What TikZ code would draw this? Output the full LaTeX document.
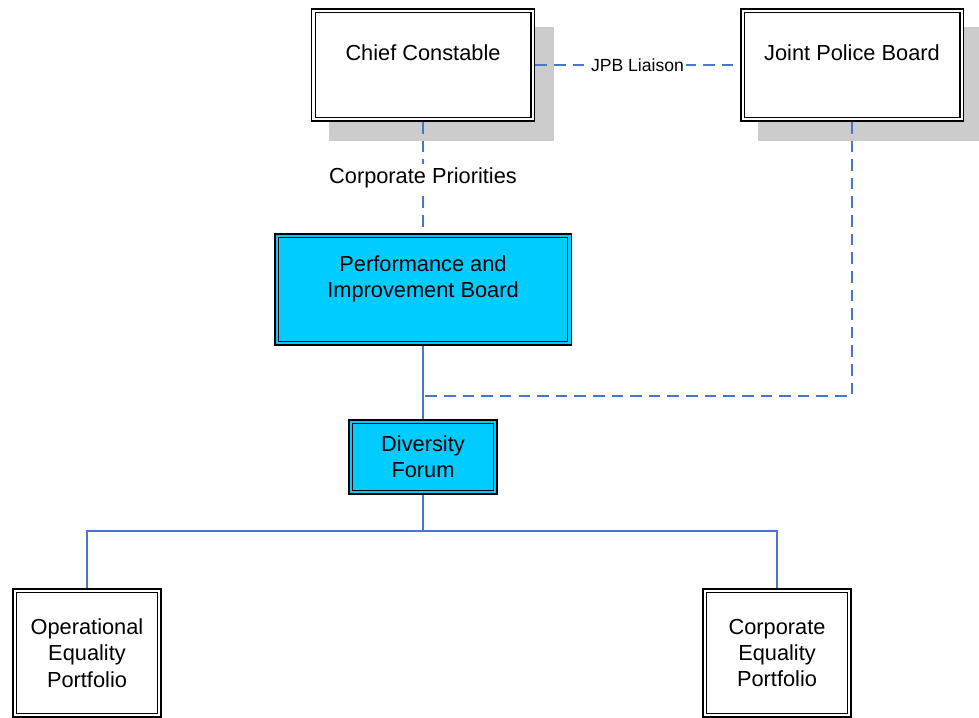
\documentclass[tikz,border=0pt]{standalone}
\usepackage{fontspec}
\setmainfont{Liberation Sans}
\usetikzlibrary{calc,backgrounds}

\definecolor{linkblue}{RGB}{72,118,204}
\definecolor{shadowgray}{RGB}{204,204,204}
\definecolor{boardcyan}{RGB}{0,204,255}

\tikzset{
  % box with a heavy outer rule and a thin inner rule
  dblbox/.style={draw=black, line width=1.1pt, inner sep=0pt,
    path picture={\draw[line width=0.6pt]
      ([shift={(2pt,2pt)}]path picture bounding box.south west) rectangle
      ([shift={(-2pt,-2pt)}]path picture bounding box.north east);}},
  plainbox/.style={dblbox, fill=white},
  cyanbox/.style={dblbox, fill=boardcyan},
  boxtext/.style={align=center, inner sep=0pt,
    font=\fontsize{12.4}{15}\selectfont},
  linktext/.style={fill=white, inner sep=1.2pt, font=\fontsize{10}{12}\selectfont},
  steplabel/.style={fill=white, inner sep=2pt, font=\fontsize{12.4}{15}\selectfont},
  dashlink/.style={draw=linkblue, line width=0.75pt, dash pattern=on 6.6pt off 4pt},
  solidlink/.style={draw=linkblue, line width=0.7pt},
}

\begin{document}
\begin{tikzpicture}[x=0.02cm, y=-0.02cm]
\useasboundingbox (0,0) rectangle (979,717);

% boxes
\node[plainbox, minimum width=4.46cm, minimum height=2.24cm] (cc)  at (423,65)  {};
\node[plainbox, minimum width=4.46cm, minimum height=2.24cm] (jpb) at (852,65)  {};
\node[cyanbox,  minimum width=5.94cm, minimum height=2.22cm] (pib) at (423,289.5) {};
\node[cyanbox,  minimum width=2.96cm, minimum height=1.48cm] (df)  at (423,457)   {};
\node[plainbox, minimum width=2.96cm, minimum height=2.56cm] (oep) at (87,653)    {};
\node[plainbox, minimum width=2.96cm, minimum height=2.56cm] (cep) at (777,653)   {};

% drop shadows behind the two top boxes
\begin{scope}[on background layer]
  \fill[shadowgray] ([shift={(0.37cm,-0.38cm)}]cc.south west)
    rectangle ([shift={(0.37cm,-0.38cm)}]cc.north east);
  \fill[shadowgray] ([shift={(0.37cm,-0.38cm)}]jpb.south west)
    rectangle ([shift={(0.37cm,-0.38cm)}]jpb.north east);
\end{scope}

% box texts
\node[boxtext] (cc-t)  at ([yshift=6.8pt]cc.center)  {Chief Constable};
\node[boxtext] (jpb-t) at ([yshift=7.2pt]jpb.center) {Joint Police Board};
\node[boxtext] (pib-t) at ([yshift=6pt]pib.center)   {Performance and\\Improvement Board};
\node[boxtext] (df-t)  at (df.center)  {Diversity\\Forum};
\node[boxtext] (oep-t) at (oep.center) {Operational\\Equality\\Portfolio};
\node[boxtext] (cep-t) at (cep.center) {Corporate\\Equality\\Portfolio};

% connectors
\draw[dashlink] (cc) -- node[linktext] (liaison) {JPB Liaison} (jpb);
\draw[dashlink] (cc.south) -- node[steplabel] (prio) {Corporate Priorities} (cc.south |- pib.north);
\draw[solidlink] (pib.south) -- (df.north);

\coordinate (jpbjoin) at (423,396);
\draw[dashlink] (jpb.south) |- (jpbjoin);

\coordinate (fork) at (423,531);
\draw[solidlink] (df.south) -- (fork);
\draw[solidlink] (fork) -| (oep.north);
\draw[solidlink] (fork) -| (cep.north);
\end{tikzpicture}
\end{document}
